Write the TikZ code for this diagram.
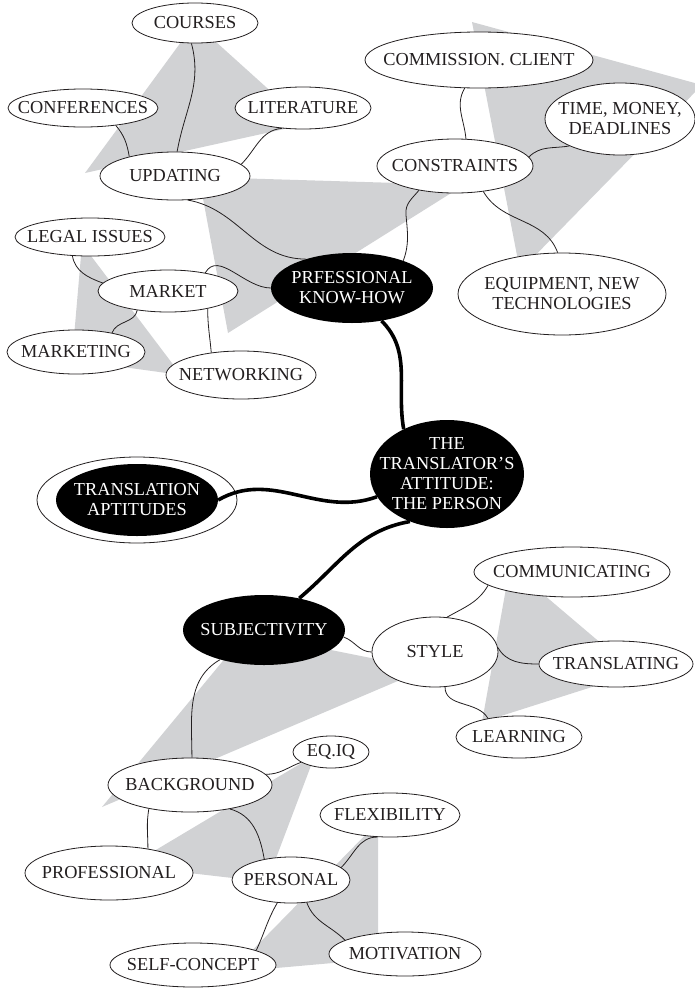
\documentclass[tikz,border=0pt]{standalone}
\usepackage{fontspec}
\setmainfont{Liberation Serif}
\usetikzlibrary{shapes.geometric}
\definecolor{shade}{RGB}{209,210,212}
\definecolor{ink}{RGB}{35,31,32}
\newcommand\mapfont{\fontsize{18.3}{20}\selectfont}

\begin{document}
\begin{tikzpicture}[x=1pt,y=1pt,
  bubble/.style={ellipse, draw=ink, line width=0.8pt, fill=white, text=ink,
    font=\mapfont, align=center, inner xsep=-40pt, inner ysep=-20pt},
  hub/.style={ellipse, fill=black, text=white,
    font=\mapfont, align=center, inner xsep=-40pt, inner ysep=-20pt},
  axes/.style 2 args={minimum width=#1pt, minimum height=#2pt},
  twig/.style={draw=ink, line width=0.8pt},
  trunk/.style={draw=black, line width=3.6pt},
  wedge/.style={fill=shade}
]
\useasboundingbox (0,0) rectangle (695,-988);

% grey wedges behind each cluster
\fill[wedge] (85,-173) -- (195,-23) -- (307,-124) -- cycle;
\fill[wedge] (199,-177) -- (464,-185) -- (228,-333) -- cycle;
\fill[wedge] (472,-22) -- (702,-85) -- (520,-271) -- cycle;
\fill[wedge] (82,-244) -- (72,-360) -- (181,-375) -- cycle;
\fill[wedge] (246,-633) -- (102,-807) -- (426,-669) -- cycle;
\fill[wedge] (510,-566) -- (636,-673) -- (482,-722) -- cycle;
\fill[wedge] (315,-755) -- (129,-866) -- (267,-882) -- cycle;
\fill[wedge] (378,-822) -- (378,-959) -- (231,-972) -- cycle;

% professional know-how branch
\node[bubble, axes={126}{40}] (courses) at (195,-23) {COURSES};
\node[bubble, axes={150}{38}] (conf) at (83,-108) {CONFERENCES};
\node[bubble, axes={136}{42}] (lit) at (303,-108) {LITERATURE};
\node[bubble, axes={150}{48}] (upd) at (175,-176) {UPDATING};
\node[bubble, axes={150}{38}] (legal) at (90,-237) {LEGAL ISSUES};
\node[bubble, axes={140}{42}] (market) at (168,-291) {MARKET};
\node[hub, axes={162}{70}] (prof) at (352,-288) {PRFESSIONAL\\KNOW-HOW};
\node[bubble, axes={228}{56}] (comm) at (479,-60) {COMMISSION. CLIENT};
\node[bubble, axes={150}{72}] (time) at (620,-119) {TIME, MONEY,\\DEADLINES};
\node[bubble, axes={156}{54}] (constr) at (455,-166) {CONSTRAINTS};
\node[bubble, axes={208}{82}] (equip) at (562,-294) {EQUIPMENT, NEW\\TECHNOLOGIES};
\node[bubble, axes={138}{44}] (marketing) at (76,-352) {MARKETING};
\node[bubble, axes={150}{48}] (network) at (241,-375) {NETWORKING};

% centre and aptitudes
\node[hub, axes={154}{108}] (tt) at (447,-474) {THE\\TRANSLATOR’S\\ATTITUDE:\\THE PERSON};
\node[bubble, axes={200}{86}] (aptring) at (137,-500) {};
\node[hub, axes={162}{72}] (apt) at (137,-500) {TRANSLATION\\APTITUDES};

% subjectivity branch
\node[hub, axes={162}{70}] (subj) at (264,-630) {SUBJECTIVITY};
\node[bubble, axes={126}{70}] (style) at (435,-652) {STYLE};
\node[bubble, axes={196}{50}] (commun) at (572,-572) {COMMUNICATING};
\node[bubble, axes={154}{46}] (transl) at (616,-664) {TRANSLATING};
\node[bubble, axes={126}{42}] (learn) at (519,-737) {LEARNING};
\node[bubble, axes={164}{54}] (bg) at (190,-785) {BACKGROUND};
\node[bubble, axes={76}{32}] (eq) at (331,-752) {EQ.IQ};
\node[bubble, axes={168}{54}] (profess) at (109,-873) {PROFESSIONAL};
\node[bubble, axes={118}{46}] (personal) at (291,-880) {PERSONAL};
\node[bubble, axes={140}{44}] (flex) at (390,-815) {FLEXIBILITY};
\node[bubble, axes={166}{44}] (self) at (193,-965) {SELF-CONCEPT};
\node[bubble, axes={152}{44}] (motiv) at (405,-954) {MOTIVATION};

% thin links
\draw[twig] (courses.-100) to[out=-75,in=80] (upd.85);
\draw[twig] (conf.-28) to[out=-50,in=100] (upd.157);
\draw[twig] (lit.-136) to[out=185,in=45] (upd.10);
\draw[twig] (upd.-62) to[out=-10,in=180] (prof.148);
\draw[twig] (legal.-133) to[out=-80,in=160] (market.173);
\draw[twig] (market.26) to[out=60,in=180] (prof.180);
\draw[twig] (market.-148) to[out=-100,in=70] (marketing.28);
\draw[twig] (market.-24) to[out=-90,in=95] (network.143);
\draw[twig] (comm.-117) to[out=-120,in=95] (constr.68);
\draw[twig] (constr.7) to[out=45,in=190] (time.-152);
\draw[twig] (constr.-146) to[out=-130,in=95] ++(-13,-24)
                          to[out=-85,in=70] (prof.28);
\draw[twig] (constr.-42) to[out=-60,in=110] (equip.96);
\draw[twig] (subj.-5) to[out=-20,in=180] (style.180);
\draw[twig] (style.71) to[out=30,in=-120] (commun.-171);
\draw[twig] (style.4) to[out=-60,in=180] (transl.180);
\draw[twig] (style.-74) to[out=-90,in=120] (learn.149);
\draw[twig] (subj.-146) to[out=-150,in=90] (bg.86);
\draw[twig] (bg.8) to[out=0,in=200] (eq.-161);
\draw[twig] (bg.-150) to[out=-100,in=90] (profess.32);
\draw[twig] (bg.-31) to[out=-15,in=100] (personal.142);
\draw[twig] (personal.14) to[out=45,in=180] (flex.-120);
\draw[twig] (personal.-121) to[out=-120,in=65] (self.13);
\draw[twig] (personal.-55) to[out=-70,in=135] (motiv.167);

% thick links to the centre
\draw[trunk] (prof.-48) to[out=-45,in=100] (tt.134);
\draw[trunk] (apt.0) to[out=30,in=200] (tt.-162);
\draw[trunk] (tt.-128) to[out=190,in=40] (subj.42);
\end{tikzpicture}
\end{document}
